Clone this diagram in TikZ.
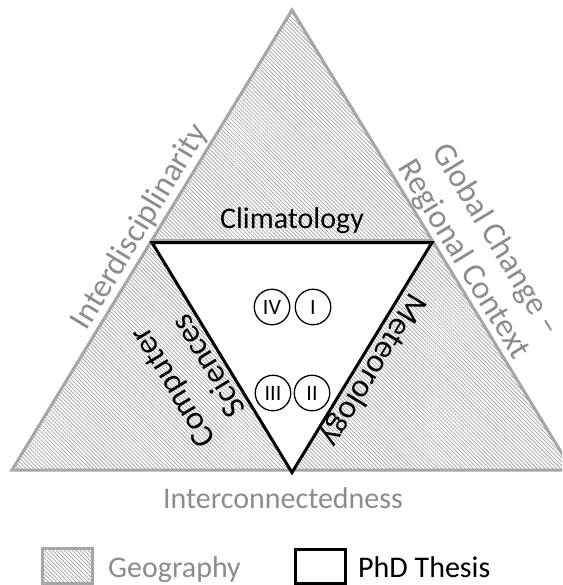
\documentclass[tikz,border=0pt]{standalone}
\usepackage{fontspec}
\setmainfont{Carlito}
\usetikzlibrary{patterns.meta}
\definecolor{edgegray}{HTML}{A6A6A6}
\definecolor{textgray}{HTML}{8C8C8C}
\definecolor{hatchgray}{HTML}{ADADAD}
\begin{document}
\begin{tikzpicture}[x=1pt,y=-1pt,
  hatch/.style={pattern={Lines[angle=-45,distance=2.8pt,line width=0.9pt]},pattern color=hatchgray},
  bigtext/.style={font=\fontsize{30}{37}\selectfont, inner sep=0pt, align=center},
  slanttext/.style={font=\fontsize{33}{40}\selectfont, inner sep=0pt, align=center},
  graytext/.style={bigtext,text=textgray},
  grayslant/.style={slanttext,text=textgray},
  numcirc/.style={circle,draw=black,line width=1.3pt,minimum size=35.5pt,inner sep=0pt,font=\fontsize{22}{26}\selectfont}
]
\clip (0,0) rectangle (562,585);
\fill[white] (0,0) rectangle (562,585);
% outer triangle
\coordinate (A) at (292,10);
\coordinate (B) at (12,470);
\coordinate (C) at (572,470);
\coordinate (M1) at (152,240);
\coordinate (M2) at (432,240);
\coordinate (M3) at (292,470);
\coordinate (K1) at (152,242.5);
\coordinate (K2) at (432,242.5);
\coordinate (K3) at (292,472.5);
\draw[hatch, draw=edgegray, line width=3pt, line join=miter] (A) -- (B) -- (C) -- cycle;
\fill[white] (M1) -- (M2) -- (M3) -- cycle;
\draw[edgegray, line width=3pt] (M1) -- (M2);
\draw[black, line width=3pt, line join=miter] (K1) -- (K2) -- (K3) -- cycle;
% labels
\node[bigtext, anchor=base] (clim) at (292,228) {Climatology};
\node[grayslant, rotate=58.7] (inter) at (140,227) {Interdisciplinarity};
\node[grayslant, rotate=-58.7, font=\fontsize{33}{38}\selectfont] (glob) at (479.5,250) {Global Change --\\Regional Context};
\node[slanttext, rotate=121.3, font=\fontsize{33}{42}\selectfont] (comp) at (190,377) {Computer\\Sciences};
\node[slanttext, rotate=-121.3] (meteo) at (373,370) {Meteorology};
\node[graytext, anchor=base] (conn) at (283,508) {Interconnectedness};
% numbered circles
\node[numcirc] (c4) at (272,307) {IV};
\node[numcirc] (c1) at (313,307) {I};
\node[numcirc] (c3) at (273,393) {III};
\node[numcirc] (c2) at (312,393) {II};
% legend
\draw[hatch, draw=edgegray, line width=3pt] (42,548) rectangle (92,583);
\node[graytext, anchor=base west] (geo) at (108,577) {Geography};
\draw[black, line width=3pt, fill=white] (295,549) rectangle (345,583);
\node[bigtext, anchor=base west] (phd) at (358,577) {PhD Thesis};
\end{tikzpicture}
\end{document}
